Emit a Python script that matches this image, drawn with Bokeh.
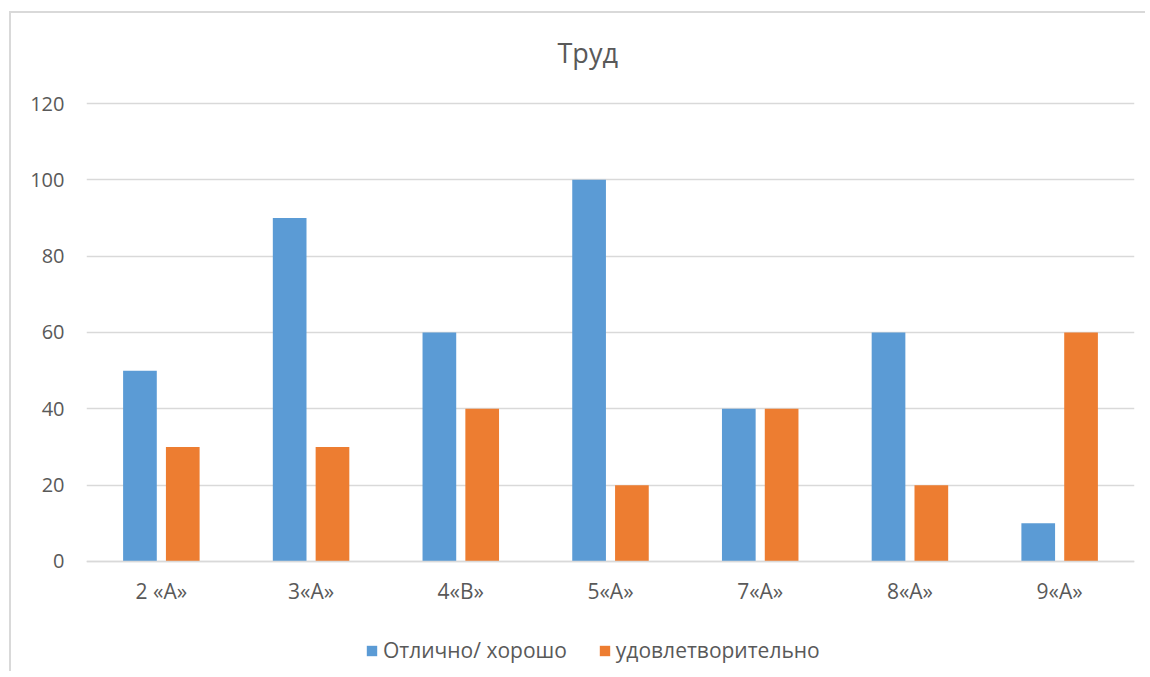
from bokeh.plotting import figure
from bokeh.models import Legend, LegendItem, FixedTicker, ColumnDataSource, Range1d
from bokeh.transform import dodge
from bokeh.embed import file_html
from bokeh.resources import INLINE

categories = ["2 «А»", "3«А»", "4«В»", "5«А»", "7«А»", "8«А»", "9«А»"]
good = [50, 90, 60, 100, 40, 60, 10]
satisfactory = [30, 30, 40, 20, 40, 20, 60]
series_names = ["Отлично/ хорошо", "удовлетворительно"]
y_ticks = [0, 20, 40, 60, 80, 100, 120]

FONT = "Open Sans"
TXT = "#595959"
GRID = "#d9d9d9"

src = ColumnDataSource(dict(cat=categories, good=good, sat=satisfactory))

# frame extends below the value axis (category labels, legend) and a little above 120
p = figure(x_range=categories, y_range=Range1d(-29.35, 127.34), width=1136, height=660,
           output_backend="svg", toolbar_location=None,
           min_border_left=75, min_border_right=13, min_border_top=62, min_border_bottom=0)
p.margin = (11, 0, 0, 9)
p.styles = {"border-left": "2px solid #d9d9d9", "border-top": "2px solid #d9d9d9"}
p.x_range.range_padding = 0
p.outline_line_color = None
p.background_fill_color = "white"
p.border_fill_color = "white"

r1 = p.vbar(x=dodge("cat", -0.143, range=p.x_range), top="good", width=0.225, source=src,
            fill_color="#5B9BD5", line_color=None)
r2 = p.vbar(x=dodge("cat", 0.143, range=p.x_range), top="sat", width=0.225, source=src,
            fill_color="#ED7D31", line_color=None)

# title
p.title.text = "Труд"
p.title.align = "left"
p.title.offset = 471
p.title.text_font = FONT
p.title.text_font_size = "27px"
p.title.text_font_style = "normal"
p.title.text_color = TXT
p.title.standoff = 10

# axes
p.yaxis.ticker = FixedTicker(ticks=y_ticks)
p.yaxis.axis_line_color = None
p.yaxis.major_tick_line_color = None
p.yaxis.minor_tick_line_color = None
p.yaxis.major_label_text_font = FONT
p.yaxis.major_label_text_font_size = "20px"
p.yaxis.major_label_text_color = TXT
p.yaxis.major_label_standoff = 16

p.xaxis.fixed_location = 0
p.xaxis.axis_line_color = GRID
p.xaxis.axis_line_width = 1.5
p.xaxis.major_tick_line_color = None
p.xaxis.minor_tick_line_color = None
p.xaxis.major_label_text_font = FONT
p.xaxis.major_label_text_font_size = "21px"
p.xaxis.major_label_text_color = TXT
p.xaxis.major_label_standoff = 10

p.xgrid.grid_line_color = None
p.ygrid.grid_line_color = GRID
p.ygrid.grid_line_width = 1.5

legend = Legend(items=[LegendItem(label=series_names[0], renderers=[r1]),
                       LegendItem(label=series_names[1], renderers=[r2])],
                orientation="horizontal", location=(279, 9))
legend.label_text_font = FONT
legend.label_text_font_size = "21px"
legend.label_text_color = TXT
legend.glyph_width = 13
legend.glyph_height = 13
legend.spacing = 31
legend.label_standoff = 5
legend.padding = 0
legend.margin = 0
legend.border_line_color = None
legend.background_fill_alpha = 0
p.add_layout(legend, "center")

open("out.html", "w").write(file_html(p, INLINE))
